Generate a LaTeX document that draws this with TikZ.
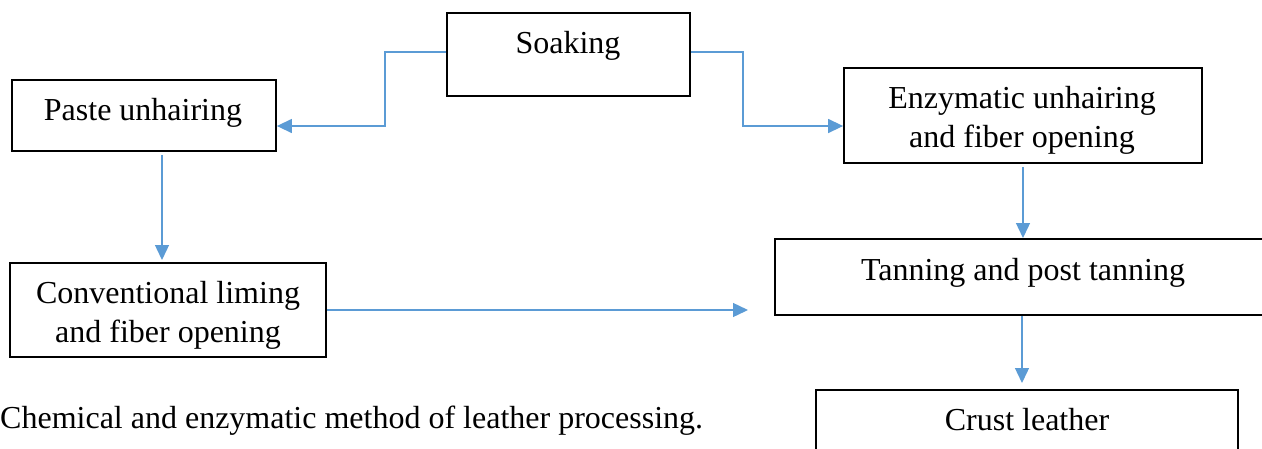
\documentclass[tikz,border=0pt]{standalone}
\usepackage{fontspec}
\setmainfont{Liberation Serif}
\usetikzlibrary{arrows.meta}
\definecolor{flow}{HTML}{5B9BD5}
\begin{document}
\begin{tikzpicture}[x=1pt,y=-1pt,
  box/.style={draw=black,line width=1.8pt,inner sep=0pt,rectangle},
  lbl/.style={inner sep=0pt,anchor=base,font=\fontsize{32}{39}\selectfont,align=center},
  conn/.style={draw=flow,line width=1.4pt,-{Triangle[length=15pt,width=14pt]}}]
\useasboundingbox (0,0) rectangle (1262,448);
\clip (0,0) rectangle (1262,448);
% boxes
\node[box,minimum width=243pt,minimum height=83pt] (soak) at (568.5,54.5) {};
\node[box,minimum width=264pt,minimum height=71pt] (paste) at (144,115.5) {};
\node[box,minimum width=358pt,minimum height=95pt] (enz) at (1023,115.5) {};
\node[box,minimum width=500pt,minimum height=76pt] (tan) at (1025,277) {};
\node[box,minimum width=316pt,minimum height=94pt] (conv) at (168,310) {};
\node[box,minimum width=422pt,minimum height=80pt] (crust) at (1027,430) {};
% texts
\node[lbl] (tsoak) at (568,53) {Soaking};
\node[lbl] (tpaste) at (143,120) {Paste unhairing};
\node[lbl] (tenz1) at (1022,108) {Enzymatic unhairing};
\node[lbl] (tenz2) at (1022,147) {and fiber opening};
\node[lbl] (ttan) at (1023,280) {Tanning and post tanning};
\node[lbl] (tconv1) at (168,303) {Conventional liming};
\node[lbl] (tconv2) at (168,342) {and fiber opening};
\node[lbl] (tcrust) at (1027,430) {Crust leather};
\node[lbl,anchor=base west] (cap) at (0,428) {Chemical and enzymatic method of leather processing.};
% connectors
\coordinate (sl) at (soak.west |- 0,52);
\coordinate (sr) at (soak.east |- 0,52);
\draw[conn] (sl) -- (385,52) |- (paste.east |- 0,126);
\draw[conn] (sr) -- (743,52) |- (enz.west |- 0,126);
\draw[conn] (paste.south -| 162,0) ++(0,3) -- (162,260);
\draw[conn] (enz.south -| 1023,0) ++(0,3) -- (1023,238);
\coordinate (tanin) at (748,310);
\draw[conn] (conv.east |- 0,310) -- (tanin);
\draw[conn] (tan.south -| 1022,0) -- (1022,383);
\end{tikzpicture}
\end{document}
